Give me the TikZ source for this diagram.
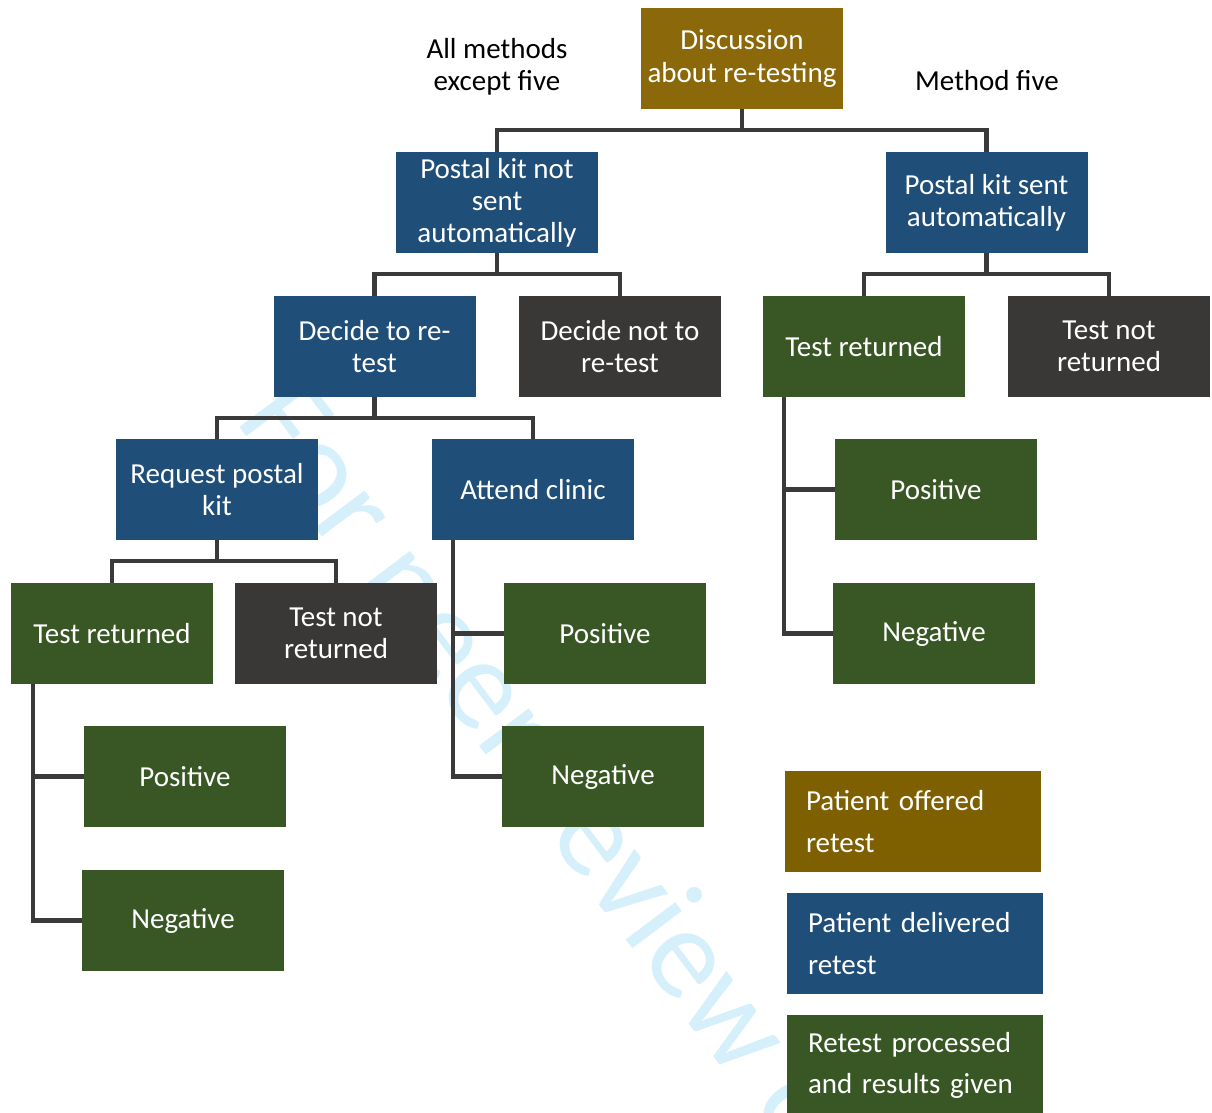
\documentclass[tikz,border=0pt]{standalone}
\usepackage{fontspec}
\setmainfont{Carlito}
\usepackage{xcolor}
\usepackage{tikz}
\usetikzlibrary{positioning}

\definecolor{offergold}{RGB}{139,105,10}
\definecolor{keygold}{RGB}{127,96,0}
\definecolor{deliverblue}{RGB}{31,78,121}
\definecolor{resultgreen}{RGB}{57,87,36}
\definecolor{stopgrey}{RGB}{58,56,55}
\definecolor{linkgrey}{RGB}{58,58,58}
\definecolor{stampcyan}{RGB}{214,240,251}

\begin{document}
\begin{tikzpicture}[
  every node/.style={font=\fontsize{16.5}{18.3}\selectfont,align=center},
  link/.style={draw=linkgrey,line width=2.3pt},
  stage/.style={text=white,minimum width=4.04cm,minimum height=2.02cm,
                inner sep=2pt},
  offer/.style={stage,fill=offergold},
  deliver/.style={stage,fill=deliverblue},
  result/.style={stage,fill=resultgreen},
  halt/.style={stage,fill=stopgrey},
  key/.style={text=white,minimum height=2.02cm,text width=4.28cm,
              inner xsep=0.42cm,inner ysep=0pt,align=left,
              font=\fontsize{16.5}{23.8}\selectfont}
]
  \useasboundingbox (0,0) rectangle (24.24,22.26);

  % watermark behind everything
  \node[anchor=base west,rotate=-53,text=stampcyan,
        font=\fontsize{74}{74}\selectfont] (stamp) at (4.62,13.94)
    {For peer review only};

  % top of the tree
  \node[offer] (disc) at (14.84,21.09) {Discussion\\about re-testing};
  \node (allm) at (9.94,20.92) {All methods\\except five};
  \node (mfive) at (19.74,20.64) {Method five};

  \node[deliver] (notauto) at (9.94,18.21)
    {Postal kit not\\sent\\automatically};
  \node[deliver] (auto) at (19.73,18.21) {Postal kit sent\\automatically};

  % second level
  \node[deliver] (retest) at (7.49,15.33) {Decide to re-\\test};
  \node[halt] (noretest) at (12.40,15.33) {Decide not to\\re-test};
  \node[result] (retR) at (17.28,15.33) {Test returned};
  \node[halt] (notretR) at (22.18,15.33) {Test not\\returned};

  % third level
  \node[deliver] (reqkit) at (4.34,12.47) {Request postal\\kit};
  \node[deliver] (clinic) at (10.66,12.47) {Attend clinic};
  \node[result] (posR) at (18.72,12.47) {Positive};
  \node[result] (negR) at (18.68,9.59) {Negative};

  % postal kit branch
  \node[result] (retL) at (2.24,9.59) {Test returned};
  \node[halt] (notretL) at (6.72,9.59) {Test not\\returned};
  \node[result] (posL) at (3.70,6.73) {Positive};
  \node[result] (negL) at (3.66,3.85) {Negative};

  % clinic branch
  \node[result] (posC) at (12.10,9.59) {Positive};
  \node[result] (negC) at (12.06,6.73) {Negative};

  % key
  \node[key,fill=keygold] (key1) at (18.26,5.83)
    {Patient offered\\retest};
  \node[key,fill=deliverblue] (key2) at (18.30,3.39)
    {Patient delivered\\retest};
  \node[key,fill=resultgreen] (key3) at (18.30,0.95)
    {Retest processed\\and results given};

  % splits
  \draw[link] (disc.south) -- ++(0,-0.42) -| (notauto.north);
  \draw[link] (disc.south) -- ++(0,-0.42) -| (auto.north);
  \draw[link] (notauto.south) -- ++(0,-0.42) -| (retest.north);
  \draw[link] (notauto.south) -- ++(0,-0.42) -| (noretest.north);
  \draw[link] (auto.south) -- ++(0,-0.42) -| (retR.north);
  \draw[link] (auto.south) -- ++(0,-0.42) -| (notretR.north);
  \draw[link] (retest.south) -- ++(0,-0.42) -| (reqkit.north);
  \draw[link] (retest.south) -- ++(0,-0.42) -| (clinic.north);
  \draw[link] (reqkit.south) -- ++(0,-0.42) -| (retL.north);
  \draw[link] (reqkit.south) -- ++(0,-0.42) -| (notretL.north);

  % results hanging off the side
  \draw[link] ([xshift=0.44cm]retL.south west) |- (posL.west);
  \draw[link] ([xshift=0.44cm]retL.south west) |- (negL.west);
  \draw[link] ([xshift=0.42cm]clinic.south west) |- (posC.west);
  \draw[link] ([xshift=0.42cm]clinic.south west) |- (negC.west);
  \draw[link] ([xshift=0.42cm]retR.south west) |- (posR.west);
  \draw[link] ([xshift=0.42cm]retR.south west) |- (negR.west);
\end{tikzpicture}
\end{document}
